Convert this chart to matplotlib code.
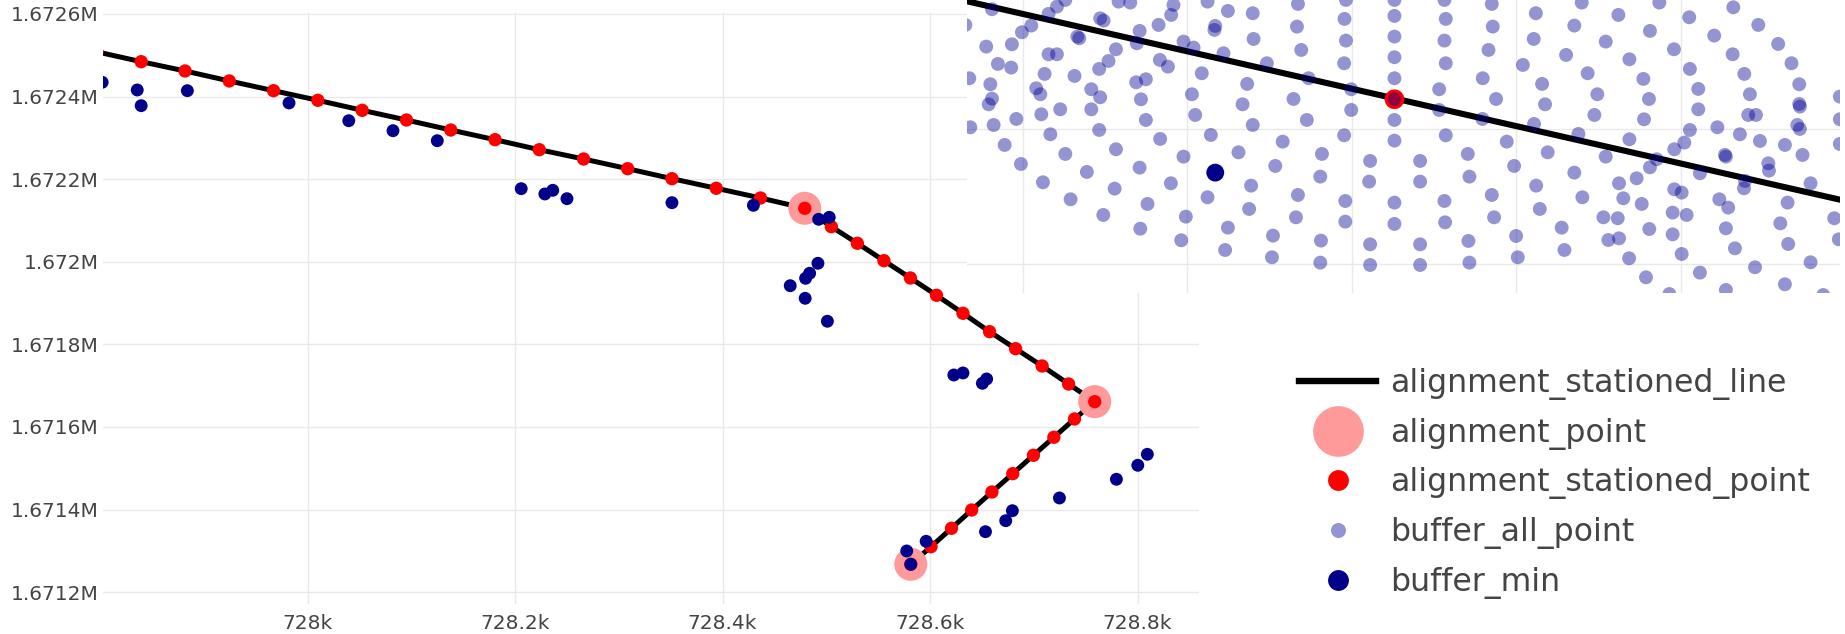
import matplotlib
matplotlib.use("Agg")
import matplotlib.pyplot as plt
from matplotlib.lines import Line2D
from matplotlib.ticker import MultipleLocator, FuncFormatter, NullFormatter
import numpy as np

# ---- alignment (easting / northing, metres) ----
stn_x = [727797.0, 727839.6, 727881.9, 727924.5, 727967.2, 728009.9, 728052.6, 728095.3,
         728138.0, 728180.7, 728223.3, 728266.0, 728308.5, 728351.2, 728393.9, 728436.5,
         728479.2, 728504.8, 728529.9, 728555.5, 728581.0, 728606.2, 728631.7, 728657.3,
         728682.4, 728708.0, 728733.5, 728758.7, 728739.2, 728719.3, 728699.6, 728679.7,
         728659.6, 728640.1, 728620.6, 728600.9, 728581.4]
stn_y = [1672508.3, 1672484.5, 1672462.0, 1672437.8, 1672414.3, 1672391.0, 1672366.8, 1672343.3,
         1672319.1, 1672295.6, 1672271.4, 1672248.9, 1672225.4, 1672201.2, 1672178.0, 1672154.5,
         1672129.5, 1672085.0, 1672044.8, 1672002.7, 1671960.8, 1671918.9, 1671875.3, 1671830.8,
         1671789.6, 1671747.7, 1671704.1, 1671661.3, 1671619.4, 1671575.1, 1671531.5, 1671487.0,
         1671442.6, 1671399.0, 1671354.7, 1671310.2, 1671267.6]

align_x = [728479.2, 728758.7, 728581.4]
align_y = [1672129.5, 1671661.3, 1671267.6]

bmin_x = [727802.0, 727835.8, 727839.6, 727884.1, 727982.1, 728039.7, 728082.3, 728125.0,
          728205.9, 728228.7, 728236.3, 728250.0, 728351.2, 728429.7, 728492.6, 728502.8,
          728491.9, 728483.9, 728480.0, 728465.2, 728479.6, 728501.0, 728622.9, 728631.7,
          728650.4, 728654.5, 728577.5, 728581.4, 728596.2, 728653.4, 728672.9, 728679.3,
          728724.7, 728779.6, 728800.2, 728809.4]
bmin_y = [1672434.6, 1672416.0, 1672378.0, 1672414.3, 1672384.5, 1672341.6, 1672317.4, 1672293.2,
          1672177.0, 1672164.2, 1672173.1, 1672152.8, 1672143.1, 1672136.8, 1672102.9, 1672107.7,
          1671996.4, 1671972.2, 1671960.0, 1671942.1, 1671911.6, 1671856.0, 1671725.9, 1671730.8,
          1671705.8, 1671716.2, 1671299.8, 1671267.6, 1671323.2, 1671346.5, 1671373.1, 1671397.3,
          1671428.1, 1671473.4, 1671507.3, 1671533.9]

# ---- close-up around one station: candidate buffer points (offsets in metres) ----
zoom_stn_x = 728012.6
zoom_stn_y = 1672384.4
zoom_line_x = [727985.0, 728041.0]
zoom_line_y = [1672399.8, 1672368.8]
zoom_min_dx = [-10.90]
zoom_min_dy = [-10.87]

buf_dx = [-24.48, -21.04, -20.53, -20.02, -17.90, -17.69, -16.78, -16.07, -13.44, -13.58, -11.37,
          -10.13, -10.90, -10.95, -8.62, -22.09, -22.66, -24.83, -23.27, -24.12, -23.31, -19.29,
          -19.17, -21.04, -20.53, -15.50, -15.67, -16.94, -17.39, -17.96, -14.35, -12.83, -12.22,
          -10.40, -14.27, -13.78, -11.72, -8.57, -25.86, -24.58, -24.48, -24.68, -21.79, -21.54,
          -21.28, -19.46, -18.44, -17.90, -15.71, -15.12, -15.42, -12.32, -8.96, -9.24, -25.80,
          -24.38, -23.00, -21.48, -20.33, -18.44, -15.12, -12.12, -8.62, -23.71, -20.93, -17.96,
          -14.25, -11.17, -20.02, -16.94, -12.83, -9.49, -22.72, -18.71, -15.50, -8.72, -21.38,
          -17.02, -13.60, -11.37, -8.84, -19.70, -15.02, -17.71, -12.69, -10.13, -15.46, -12.97,
          -10.30, -26.10,
          -5.87, -5.93, -5.67, -6.14, -5.33, -6.80, -7.25, -5.87, -5.99, -7.39, -7.45, -7.76,
          -5.22, -4.41, -4.51, -2.95, -3.04, -2.95, -3.06, -2.63, -2.63, -3.06, -1.48, -1.54,
          -2.99, -2.99, -4.47, -4.51, -1.48, -1.48, 0.0, 0.0, 0.0, 0.0, 0.0, 0.0, 0.0, 0.0, 0.0,
          0.0, 1.56, 1.56, 1.56, 1.56, 3.04, 3.12, 3.04, 3.12, 2.72, 2.72, 3.12, 3.04, 3.08, 4.50,
          4.56, 5.92, 5.98, 5.72, 5.37, 6.18, 5.35, 6.83, 4.46, 4.56, 7.28, 5.92, 6.06, 7.40, 7.50,
          8.60, 8.47, 7.81, 9.16, 8.49, 8.62, 8.84, 8.98, 9.32,
          11.39, 13.62, 16.11, 10.94, 15.54, 12.85, 10.44, 14.29, 17.00, 11.75, 15.14, 12.34,
          15.48, 12.16, 15.18, 17.93, 20.61, 22.13, 19.45, 23.34, 20.57, 24.15, 17.97, 21.28,
          24.62, 18.48, 21.62, 24.62, 24.66, 18.48, 21.52, 21.99, 27.09, 27.09, 17.97, 19.64,
          21.01, 22.23, 23.75, 24.50, 24.66, 24.82, 27.09, 11.19, 14.29, 12.85, 17.02, 17.63,
          20.10, 20.16, 22.74, 22.78, 25.31, 10.94, 15.54, 15.95, 18.58, 21.32, 21.26, 13.66,
          14.73, 11.43, 13.92, 15.04, 17.02, 17.47, 19.76, 20.30, 23.91, 12.71, 13.58, 16.92,
          17.77, 20.16, 23.47, 26.75, 10.17, 15.50, 16.92, 13.01, 13.66, 23.95, 27.03, 10.34,
          14.27, 17.47, 20.71, 25.31, 21.93, 15.30, 18.58, 23.75, 20.16, 16.72, 26.08]
buf_dy = [13.33, 12.64, 13.72, 14.71, 11.99, 11.65, 14.46, 14.32, 13.97, 12.49, 14.46,
          13.08, 10.86, 10.27, 12.74, 10.91, 9.92, 7.80, 8.14, 5.23, 4.69, 9.28,
          9.03, 6.66, 6.66, 10.12, 8.29, 7.40, 5.67, 4.49, 11.01, 8.54, 7.65,
          6.81, 5.82, 4.83, 3.85, 8.93, 3.11, 2.22, 0.09, -0.75, 1.62, 0.74,
          3.75, 3.45, 1.48, 0.29, 2.51, 2.96, -0.01, 0.74, 2.27, -0.75, -4.15,
          -3.81, -2.92, -2.23, -1.49, -1.49, -3.07, -2.33, -3.81, -6.77, -5.19, -4.55,
          -5.88, -5.29, -8.10, -7.41, -8.50, -7.86, -9.59, -10.77, -10.13, -12.80, -12.30,
          -13.24, -12.45, -14.52, -16.25, -14.82, -15.51, -17.14, -17.39, -19.02, -19.17, -20.89,
          -22.33, 11.01,
          14.12, 10.76, 7.30, 0.04, -3.07, -6.28, -9.88, -14.18, -17.49, -20.20, -23.41, 5.33,
          3.11, -8.10, -11.46, 14.71, 11.90, 8.69, 5.33, 1.48, -1.59, -5.34, -9.14, -12.20,
          -15.07, -18.13, -20.94, -24.20, -21.49, -24.55, 14.71, 12.34, 9.28, 6.22, 3.11, 0.0, -3.07, -6.13, -15.31,
          -18.47, -9.14, -12.20, -21.49, -24.55, 14.71, 11.90, 8.69, 5.33, 1.48, -1.59, -5.34, -15.07, -18.23, -20.99,
          -24.20, 14.12, 10.76, 7.30, 3.11, 0.04, -2.92, -6.28, -8.10, -11.46, -9.88, -14.18, -17.49, -20.25, -23.41,
          12.74, 8.93, 5.08, -0.75, -3.66, -12.80, -16.25, 2.27, -7.86,
          14.32, 12.49, 14.32, 10.91, 10.12, 8.54, 6.56, 5.92, 7.40, 3.85, 3.01, 0.74,
          0.04, -2.33, -2.97, 12.14, 13.62, 11.01, 9.43, 8.19, 6.66, 5.33, 4.49, 3.75,
          2.22, 1.53, 0.74, -0.70, -1.09, -1.49, -2.33, -2.33, 0.39, -2.97, -4.55, -4.15,
          -5.19, -6.18, -6.77, -3.81, -4.40, -8.25, -6.62, -5.14, -5.93, -8.50, -7.41, -6.42,
          -8.25, -8.50, -9.49, -10.57, -12.45, -10.87, -10.08, -8.89, -10.97, -12.10, -13.19, -12.45,
          -11.71, -14.52, -14.67, -15.51, -13.34, -13.83, -14.82, -16.05, -15.31, -17.49, -17.63, -16.79,
          -17.14, -19.12, -18.38, -17.63, -19.02, -19.22, -20.01, -20.85, -20.60, -21.44, -20.75, -22.33,
          -23.56, -22.92, -22.08, -24.15, -24.89, -26.38, -25.68, -27.41, -28.25, -28.85, -29.00]

# ---- styles ----
LINE = "black"
ALIGN = "#ff9a9a"
STATION = "#ff0000"
BUF_ALL = (0.0, 0.0, 0.58, 0.42)
BUF_MIN = "#00008b"
GRID = "#e9e9e9"
TEXT = "#444444"

W, H = 1845, 634
fig = plt.figure(figsize=(W / 100, H / 100), dpi=100)

# main map
ax = fig.add_axes([103 / W, 30 / H, 1096 / W, 592 / H])
ax.plot(stn_x, stn_y, color=LINE, lw=3.6, solid_capstyle="butt", zorder=2)
ax.scatter(align_x, align_y, s=565, color=ALIGN, edgecolors="none", zorder=3)
ax.scatter(stn_x, stn_y, s=92, color=STATION, edgecolors="none", zorder=4)
ax.scatter(bmin_x, bmin_y, s=86, color=BUF_MIN, edgecolors="none", zorder=5)

ax.set_xlim(727802.8, 728859.2)
ax.set_ylim(1671171.4, 1672604.8)
ax.xaxis.set_major_locator(MultipleLocator(200))
ax.yaxis.set_major_locator(MultipleLocator(200))
ax.xaxis.set_major_formatter(FuncFormatter(
    lambda v, p: ("%.1f" % (v / 1e3)).rstrip("0").rstrip(".") + "k"))
ax.yaxis.set_major_formatter(FuncFormatter(
    lambda v, p: ("%.4f" % (v / 1e6)).rstrip("0").rstrip(".") + "M"))
ax.grid(True, color=GRID, lw=1.0, zorder=0)
ax.set_axisbelow(True)
for s in ax.spines.values():
    s.set_visible(False)
ax.tick_params(length=0, labelsize=14.5, colors=TEXT)
ax.tick_params(axis="y", pad=3)
ax.tick_params(axis="x", pad=7)

# close-up panel
axi = fig.add_axes([967 / W, (H - 293) / H, 873 / W, 293 / H])
axi.set_facecolor("white")
bx = zoom_stn_x + np.array(buf_dx)
by = zoom_stn_y + np.array(buf_dy)
axi.plot(zoom_line_x, zoom_line_y, color=LINE, lw=4.4, solid_capstyle="butt", zorder=2)
axi.scatter([zoom_stn_x], [zoom_stn_y], s=200, color=STATION, edgecolors="none", zorder=3)
axi.scatter(bx, by, s=100, color=BUF_ALL, edgecolors="none", zorder=4)
axi.scatter(zoom_stn_x + np.array(zoom_min_dx), zoom_stn_y + np.array(zoom_min_dy),
            s=165, color=BUF_MIN, edgecolors="none", zorder=5)
axi.set_xlim(727986.6, 728039.7)
axi.set_ylim(1672355.7, 1672399.1)
axi.xaxis.set_major_locator(MultipleLocator(10))
axi.yaxis.set_major_locator(MultipleLocator(20))
axi.xaxis.set_major_formatter(NullFormatter())
axi.yaxis.set_major_formatter(NullFormatter())
axi.tick_params(length=0)
axi.grid(True, color=GRID, lw=1.0, zorder=0)
axi.set_axisbelow(True)
for s in axi.spines.values():
    s.set_visible(False)

# legend
handles = [
    Line2D([], [], color=LINE, lw=4.6),
    Line2D([], [], ls="none", marker="o", ms=36.5, mfc=ALIGN, mec="none"),
    Line2D([], [], ls="none", marker="o", ms=15, mfc=STATION, mec="none"),
    Line2D([], [], ls="none", marker="o", ms=10.8, mfc=BUF_ALL, mec="none"),
    Line2D([], [], ls="none", marker="o", ms=15, mfc=BUF_MIN, mec="none"),
]
labels = ["alignment_stationed_line", "alignment_point", "alignment_stationed_point",
          "buffer_all_point", "buffer_min"]
fig.legend(handles, labels, loc="upper left", bbox_to_anchor=(1299 / W, 1 - 368 / H),
           frameon=False, fontsize=22.7, labelcolor=TEXT, handlelength=2.45,
           handletextpad=0.44, labelspacing=0.56, borderpad=0, borderaxespad=0)

fig.savefig("out.png", dpi=100, facecolor="white")
